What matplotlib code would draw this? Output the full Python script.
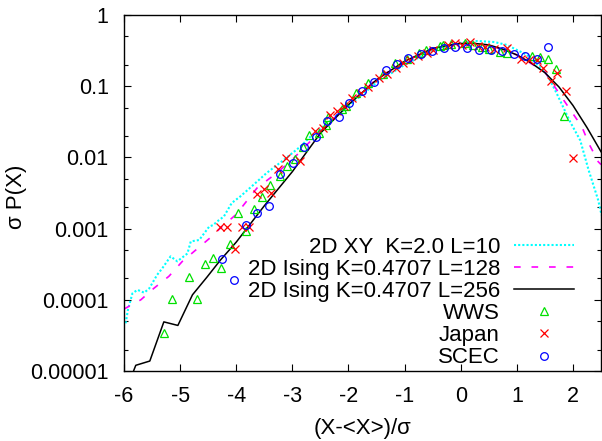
import numpy as np
import matplotlib
matplotlib.use("Agg")
import matplotlib.pyplot as plt
from matplotlib.ticker import FixedLocator, FixedFormatter, LogLocator, NullFormatter

plt.rcParams['font.family'] = ['Liberation Sans', 'DejaVu Sans']
plt.rcParams['axes.unicode_minus'] = False

# %% data (x in units of sigma, y as log10 of sigma P(X))

# 2D XY K=2.0 L=10 (dotted cyan)
xy_x = [-5.97, -5.93, -5.85, -5.76, -5.64, -5.55, -5.41, -5.32, -5.17, -5.05,
        -4.87, -4.81, -4.66, -4.48, -4.41, -4.34, -4.22, -4.08, -3.93, -3.70,
        -3.46, -3.16, -2.86, -2.68, -2.5, -2.0, -1.5, -1.0, -0.5, 0.0,
        0.3, 0.6, 0.82, 1.18, 1.53, 1.71, 1.95, 2.13, 2.28, 2.45, 2.51]
xy_logp = [-4.33, -4.14, -3.91, -3.86, -3.90, -3.84, -3.65, -3.56, -3.39, -3.46,
           -3.35, -3.18, -3.16, -2.97, -2.95, -2.90, -2.83, -2.64, -2.55, -2.39,
           -2.22, -2.04, -1.85, -1.71, -1.60, -1.28, -0.95, -0.70, -0.50, -0.39,
           -0.365, -0.38, -0.42, -0.56, -0.82, -1.10, -1.50, -1.76, -2.18, -2.60, -2.81]

# 2D Ising K=0.4707 L=128 (dashed magenta)
is128_x = [-6.0, -5.7, -5.47, -5.2, -4.96, -4.72, -4.48, -4.25, -4.0, -3.63,
           -3.28, -3.0, -2.5, -2.0, -1.5, -1.0, -0.5, 0.0, 0.5, 1.0,
           1.5, 1.83, 2.16, 2.28, 2.45, 2.5]
is128_logp = [-4.13, -4.00, -3.84, -3.67, -3.46, -3.30, -3.14, -2.97, -2.80, -2.43,
              -2.22, -2.03, -1.63, -1.25, -0.90, -0.65, -0.47, -0.40, -0.42, -0.56,
              -0.80, -1.19, -1.57, -1.80, -2.06, -2.10]

# 2D Ising K=0.4707 L=256 (solid black)
is256_x = [-5.83, -5.79, -5.54, -5.29, -5.04, -4.78, -4.52, -4.28, -4.0, -3.5,
           -3.0, -2.5, -2.0, -1.5, -1.0, -0.5, -0.25, 0.0, 0.25, 0.5,
           0.75, 1.0, 1.25, 1.5, 1.75, 2.0, 2.25, 2.5]
is256_logp = [-5.0, -4.92, -4.86, -4.31, -4.36, -3.93, -3.68, -3.44, -3.19, -2.68,
              -2.20, -1.66, -1.26, -0.91, -0.65, -0.47, -0.43, -0.40, -0.40, -0.42,
              -0.48, -0.56, -0.67, -0.81, -1.01, -1.27, -1.58, -1.92]

# WWS (green triangles)
wws_x = [-5.287, -5.139, -4.841, -4.704, -4.556, -4.408, -4.266, -4.111, -3.968, -3.820,
         -3.683, -3.535, -3.398, -3.219, -3.089, -2.952, -2.804, -2.697, -2.519, -2.399,
         -2.358, -2.119, -2.043, -1.865, -1.645, -1.378, -1.169, -0.961, -0.736, -0.617,
         -0.367, -0.308, -0.176, 0.079, 0.226, 0.376, 0.512, 0.702, 0.832, 1.267,
         1.415, 1.553, 1.701, 1.849]
wws_logp = [-4.462, -3.985, -3.684, -3.985, -3.501, -3.417, -3.558, -3.220, -2.777, -3.029,
            -2.729, -2.552, -2.388, -2.261, -2.121, -2.027, -1.850, -1.685, -1.653, -1.545,
            -1.437, -1.324, -1.278, -1.100, -0.959, -0.833, -0.678, -0.622, -0.538, -0.492,
            -0.435, -0.421, -0.407, -0.397, -0.421, -0.445, -0.482, -0.515, -0.530, -0.576,
            -0.594, -0.622, -0.763, -1.414]

# Japan (red crosses)
japan_x = [-4.289, -4.159, -4.027, -3.891, -3.772, -3.635, -3.504, -3.380, -3.250, -3.112,
           -2.863, -2.595, -2.447, -2.328, -2.198, -2.073, -1.941, -1.775, -1.645, -1.449,
           -1.317, -1.152, -1.021, -0.902, -0.754, -0.604, -0.487, -0.219, -0.100, 0.020,
           0.168, 0.316, 0.435, 0.595, 0.822, 1.071, 1.225, 1.357, 1.474, 1.611,
           1.724, 1.873, 2.009]
japan_logp = [-2.973, -2.973, -3.282, -2.973, -2.973, -2.514, -2.440, -2.504, -2.167, -2.013,
              -2.051, -1.629, -1.583, -1.404, -1.348, -1.278, -1.161, -1.091, -1.015, -0.881,
              -0.829, -0.740, -0.678, -0.632, -0.576, -0.538, -0.492, -0.421, -0.397, -0.421,
              -0.383, -0.435, -0.454, -0.478, -0.468, -0.622, -0.632, -0.632, -0.740, -0.927,
              -0.810, -1.067, -2.004]

# SCEC (blue circles)
scec_x = [-4.253, -4.039, -3.825, -3.624, -3.415, -3.219, -2.993, -2.791, -2.583, -2.376,
          -2.173, -1.989, -1.758, -1.544, -1.335, -1.128, -0.932, -0.711, -0.504, -0.296,
          -0.100, 0.119, 0.333, 0.537, 0.743, 0.952, 1.148, 1.357, 1.563]
scec_logp = [-3.423, -3.726, -2.949, -2.777, -2.683, -2.233, -2.074, -1.850, -1.709, -1.485,
             -1.428, -1.232, -1.067, -0.945, -0.772, -0.688, -0.600, -0.552, -0.506, -0.459,
             -0.445, -0.468, -0.492, -0.492, -0.501, -0.548, -0.576, -0.618, -0.454]

xticks = [-6, -5, -4, -3, -2, -1, 0, 1, 2]
yticks = [1e-5, 1e-4, 1e-3, 1e-2, 1e-1, 1]
ytick_labels = ["0.00001", "0.0001", "0.001", "0.01", "0.1", "1"]

# %% plot
fig = plt.figure(figsize=(6.02, 4.41), dpi=100)
ax = fig.add_axes([124/602, 1 - 371/441, 477/602, 356/441])

ax.semilogy(xy_x, 10**np.array(xy_logp), color='#00ffff', lw=1.5,
            linestyle=(0, (1, 1)), label="2D XY  K=2.0 L=10")
ax.semilogy(is128_x, 10**np.array(is128_logp), color='#ff00ff', lw=1.2,
            linestyle=(0, (4, 6.5)), label="2D Ising K=0.4707 L=128")
ax.semilogy(is256_x, 10**np.array(is256_logp), color='black', lw=1.1,
            label="2D Ising K=0.4707 L=256")
ax.semilogy(wws_x, 10**np.array(wws_logp), ls='none', marker='^', ms=5.5, mfc='none',
            mec='#00e000', mew=0.9, label="WWS")
ax.semilogy(japan_x, 10**np.array(japan_logp), ls='none', marker='x', ms=5.5,
            mec='#ff0000', mew=0.9, label="Japan")
ax.semilogy(scec_x, 10**np.array(scec_logp), ls='none', marker='o', ms=5.5, mfc='none',
            mec='#0000ff', mew=0.9, label="SCEC")

ax.set_xlim(-6, 2.5)
ax.set_ylim(1e-5, 1)
ax.xaxis.set_major_locator(FixedLocator(xticks))
ax.yaxis.set_major_locator(FixedLocator(yticks))
ax.yaxis.set_major_formatter(FixedFormatter(ytick_labels))
ax.yaxis.set_minor_locator(LogLocator(base=10, subs=(2.0, 5.0)))
ax.yaxis.set_minor_formatter(NullFormatter())

ax.tick_params(which='both', direction='in', top=True, right=True, labelsize=15.5,
               width=0.8, color='black')
ax.tick_params(which='major', length=5, pad=11)
ax.tick_params(which='minor', length=3)
for s in ax.spines.values():
    s.set_linewidth(1.0)

ax.set_xlabel("(X-<X>)/σ", fontsize=16)
ax.xaxis.set_label_coords(0.5, -47/356)
ax.set_ylabel("σ P(X)", fontsize=16)
ax.yaxis.set_label_coords(-97/477, 0.49)

leg = ax.legend(loc='lower right', frameon=False, markerfirst=False, fontsize=16,
                handlelength=2.7, handletextpad=0.65, labelspacing=0.05,
                borderaxespad=0.0, borderpad=0.12, bbox_to_anchor=(1 - 24/477, 0.0),
                numpoints=1)

fig.savefig("out.png", dpi=100)
